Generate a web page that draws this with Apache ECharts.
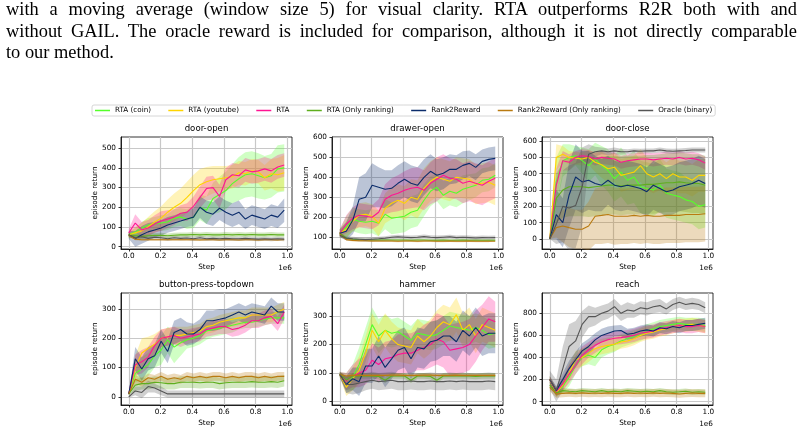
<!DOCTYPE html>
<html>
<head>
<meta charset="utf-8">
<script src="https://cdn.jsdelivr.net/npm/echarts@6/dist/echarts.min.js"></script>
<style>
html, body { margin: 0; padding: 0; background: #fff; }
#wrap { position: relative; width: 805px; height: 434px; overflow: hidden; }
#chart { position: absolute; left: 0; top: 0; width: 805px; height: 434px; }
#caption { position: absolute; left: 6px; top: -1px; width: 791px; font-family: "Liberation Serif", "Times New Roman", serif; font-size: 18.4px; line-height: 21.5px; color: #000; }
#caption div { white-space: nowrap; }
#caption .j { text-align: justify; text-align-last: justify; }
</style>
</head>
<body>
<div id="wrap">
  <div id="chart"></div>
  <div id="caption">
    <div class="j">with a moving average (window size 5) for visual clarity. RTA outperforms R2R both with and</div>
    <div class="j">without GAIL. The oracle reward is included for comparison, although it is not directly comparable</div>
    <div>to our method.</div>
  </div>
</div>
<script>
// training steps (x 1e6)
const steps = [0, 0.041, 0.082, 0.122, 0.163, 0.204, 0.245, 0.286, 0.327, 0.367, 0.408, 0.449, 0.49,
  0.531, 0.572, 0.612, 0.653, 0.694, 0.735, 0.776, 0.817, 0.857, 0.898, 0.939, 0.98]
const xTicks = [0, 0.2, 0.4, 0.6, 0.8, 1.0]

const seriesNames = ['RTA (coin)', 'RTA (youtube)', 'RTA', 'RTA (Only ranking)', 'Rank2Reward', 'Rank2Reward (Only ranking)', 'Oracle (binary)']

// door-open
const doorOpenTicks = [0, 100, 200, 300, 400, 500]
const doorOpenCoin = [60, 75, 95, 110, 115, 120, 125, 145, 150, 140, 150, 200, 185, 245, 265, 285, 320, 345, 365, 370, 360, 350, 360, 395, 400]
const doorOpenCoinBand = [15, 20, 30, 35, 35, 40, 40, 45, 45, 50, 55, 65, 70, 80, 90, 95, 100, 110, 115, 115, 115, 110, 110, 120, 120]
const doorOpenYoutube = [60, 70, 80, 100, 125, 145, 175, 200, 220, 250, 285, 315, 330, 340, 345, 350, 355, 375, 370, 385, 380, 350, 370, 365, 375]
const doorOpenYoutubeBand = [15, 30, 40, 50, 55, 60, 65, 70, 75, 80, 80, 80, 75, 70, 65, 60, 60, 60, 60, 60, 60, 65, 75, 85, 90]
const doorOpenRta = [70, 120, 85, 95, 115, 130, 140, 150, 170, 175, 205, 250, 295, 300, 255, 340, 365, 360, 390, 380, 385, 395, 385, 405, 415]
const doorOpenRtaBand = [20, 45, 40, 40, 45, 50, 45, 40, 40, 45, 50, 55, 60, 60, 60, 60, 60, 60, 60, 60, 60, 60, 60, 60, 60]
const doorOpenRtaRank = [58, 55, 52, 55, 57, 58, 55, 58, 60, 60, 62, 60, 62, 60, 60, 62, 60, 62, 60, 62, 60, 60, 62, 60, 60]
const doorOpenRtaRankBand = [12, 12, 12, 12, 12, 12, 12, 12, 12, 12, 12, 12, 12, 12, 12, 12, 12, 12, 12, 12, 12, 12, 12, 12, 12]
const doorOpenR2r = [60, 40, 60, 75, 85, 95, 110, 120, 130, 140, 150, 200, 175, 165, 195, 175, 160, 175, 140, 160, 150, 140, 160, 150, 185]
const doorOpenR2rBand = [20, 40, 45, 45, 40, 40, 40, 40, 40, 40, 45, 55, 60, 60, 60, 60, 60, 60, 50, 50, 50, 50, 55, 55, 60]
const doorOpenR2rRank = [58, 38, 35, 35, 35, 35, 35, 35, 35, 35, 35, 34, 35, 35, 34, 35, 35, 34, 35, 35, 34, 35, 35, 34, 35]
const doorOpenR2rRankBand = [5, 5, 5, 5, 5, 5, 5, 5, 5, 5, 5, 5, 5, 5, 5, 5, 5, 5, 5, 5, 5, 5, 5, 5, 5]
const doorOpenOracle = [60, 45, 50, 42, 48, 45, 40, 45, 42, 44, 40, 45, 40, 42, 40, 42, 40, 40, 42, 40, 38, 40, 38, 40, 38]
const doorOpenOracleBand = [10, 10, 10, 10, 10, 10, 10, 10, 10, 10, 10, 10, 10, 10, 10, 10, 10, 10, 10, 10, 10, 10, 10, 10, 10]

// drawer-open
const drawerOpenTicks = [100, 200, 300, 400, 500, 600]
const drawerOpenCoin = [120, 150, 190, 180, 175, 180, 170, 215, 195, 200, 205, 225, 235, 285, 330, 350, 310, 330, 320, 340, 350, 360, 385, 390, 410]
const drawerOpenCoinBand = [20, 55, 60, 60, 60, 60, 65, 75, 80, 80, 80, 80, 80, 80, 75, 70, 70, 70, 70, 70, 65, 60, 60, 60, 60]
const drawerOpenYoutube = [120, 140, 180, 210, 215, 205, 170, 245, 270, 285, 270, 300, 290, 345, 380, 400, 390, 380, 400, 395, 390, 365, 370, 375, 360]
const drawerOpenYoutubeBand = [20, 40, 50, 60, 60, 60, 65, 75, 80, 80, 85, 90, 95, 100, 100, 100, 100, 100, 100, 100, 100, 100, 100, 100, 100]
const drawerOpenRta = [120, 165, 195, 210, 205, 200, 225, 290, 310, 320, 335, 345, 350, 335, 370, 390, 410, 395, 390, 370, 380, 370, 360, 380, 395]
const drawerOpenRtaBand = [20, 45, 55, 60, 60, 60, 65, 75, 85, 90, 95, 100, 100, 100, 105, 110, 105, 100, 100, 100, 100, 100, 100, 100, 100]
const drawerOpenRtaRank = [120, 95, 90, 88, 87, 86, 86, 86, 86, 86, 86, 85, 86, 86, 85, 85, 86, 85, 85, 86, 85, 85, 85, 85, 85]
const drawerOpenRtaRankBand = [6, 6, 6, 6, 6, 6, 6, 6, 6, 6, 6, 6, 6, 6, 6, 6, 6, 6, 6, 6, 6, 6, 6, 6, 6]
const drawerOpenR2r = [120, 130, 185, 290, 300, 360, 350, 340, 345, 370, 390, 370, 360, 400, 430, 410, 420, 440, 440, 460, 470, 450, 480, 490, 495]
const drawerOpenR2rBand = [20, 45, 70, 110, 120, 110, 100, 95, 90, 90, 90, 90, 90, 90, 85, 80, 80, 75, 70, 70, 65, 65, 60, 60, 60]
const drawerOpenR2rRank = [115, 88, 84, 82, 82, 81, 81, 81, 81, 80, 81, 81, 80, 81, 81, 80, 80, 81, 80, 80, 81, 80, 80, 80, 80]
const drawerOpenR2rRankBand = [5, 5, 5, 5, 5, 5, 5, 5, 5, 5, 5, 5, 5, 5, 5, 5, 5, 5, 5, 5, 5, 5, 5, 5, 5]
const drawerOpenOracle = [110, 95, 92, 90, 88, 90, 92, 95, 100, 102, 100, 98, 100, 104, 100, 98, 100, 102, 98, 100, 98, 96, 98, 97, 98]
const drawerOpenOracleBand = [10, 10, 10, 10, 10, 10, 10, 10, 10, 10, 10, 10, 10, 10, 10, 10, 10, 10, 10, 10, 10, 10, 10, 10, 10]

// door-close
const doorCloseTicks = [0, 100, 200, 300, 400, 500, 600]
const doorCloseCoin = [0, 350, 480, 500, 510, 480, 450, 490, 450, 420, 370, 410, 360, 380, 320, 310, 300, 330, 280, 270, 260, 240, 230, 200, 210]
const doorCloseCoinBand = [0, 150, 100, 80, 60, 80, 100, 100, 120, 130, 140, 150, 150, 160, 160, 160, 160, 160, 150, 150, 150, 140, 140, 140, 140]
const doorCloseYoutube = [0, 500, 520, 500, 495, 490, 500, 470, 455, 430, 440, 390, 400, 410, 450, 400, 380, 400, 370, 400, 380, 380, 360, 390, 390]
const doorCloseYoutubeBand = [0, 80, 50, 40, 40, 40, 45, 60, 80, 85, 90, 100, 100, 100, 100, 100, 100, 100, 100, 100, 100, 100, 100, 100, 100]
const doorCloseRta = [0, 330, 480, 470, 500, 510, 505, 490, 500, 495, 490, 470, 480, 485, 490, 490, 485, 490, 495, 490, 500, 490, 495, 485, 465]
const doorCloseRtaBand = [0, 100, 60, 50, 40, 40, 40, 40, 40, 40, 40, 40, 40, 40, 40, 40, 40, 40, 40, 40, 40, 40, 40, 40, 40]
const doorCloseRtaRank = [0, 250, 300, 320, 320, 320, 315, 320, 325, 330, 330, 325, 330, 330, 330, 335, 335, 340, 345, 345, 350, 345, 340, 340, 330]
const doorCloseRtaRankBand = [0, 150, 170, 180, 180, 180, 180, 180, 180, 180, 180, 180, 180, 180, 180, 180, 180, 180, 180, 180, 180, 180, 180, 180, 180]
const doorCloseR2r = [0, 150, 100, 270, 380, 350, 360, 340, 330, 360, 330, 320, 330, 320, 310, 290, 330, 310, 290, 300, 320, 330, 340, 360, 340]
const doorCloseR2rBand = [0, 150, 150, 200, 200, 190, 180, 170, 160, 150, 150, 150, 150, 150, 150, 150, 150, 150, 150, 150, 150, 150, 150, 150, 150]
const doorCloseR2rRank = [0, 70, 80, 70, 60, 60, 80, 140, 145, 150, 140, 140, 140, 145, 140, 145, 140, 140, 145, 145, 145, 150, 150, 150, 155]
const doorCloseR2rRankBand = [0, 60, 100, 120, 120, 120, 150, 170, 175, 175, 175, 170, 170, 170, 170, 170, 170, 170, 170, 170, 170, 170, 170, 170, 170]
const doorCloseOracle = [0, 90, 200, 190, 205, 320, 520, 535, 540, 535, 540, 535, 535, 540, 538, 540, 540, 545, 540, 538, 540, 542, 545, 545, 545]
const doorCloseOracleBand = [0, 120, 220, 260, 260, 240, 60, 30, 20, 20, 20, 18, 15, 15, 15, 15, 15, 15, 15, 15, 15, 15, 15, 15, 15]

// button-press-topdown
const buttonTicks = [0, 100, 200, 300]
const buttonCoin = [10, 80, 95, 110, 140, 160, 195, 170, 185, 195, 200, 210, 225, 230, 235, 240, 245, 250, 255, 255, 260, 265, 270, 270, 270]
const buttonCoinBand = [5, 30, 40, 40, 40, 50, 45, 55, 45, 30, 30, 30, 30, 25, 25, 25, 25, 20, 20, 20, 20, 20, 20, 20, 20]
const buttonYoutube = [10, 100, 150, 165, 180, 200, 205, 210, 210, 215, 220, 225, 240, 245, 255, 260, 265, 270, 270, 280, 280, 280, 280, 290, 300]
const buttonYoutubeBand = [5, 40, 50, 40, 35, 30, 30, 30, 30, 25, 25, 25, 25, 25, 25, 25, 25, 25, 25, 25, 25, 25, 25, 25, 25]
const buttonRta = [10, 110, 120, 135, 175, 200, 205, 210, 200, 205, 210, 215, 230, 235, 240, 240, 230, 235, 245, 260, 260, 270, 275, 250, 290]
const buttonRtaBand = [5, 35, 40, 35, 30, 30, 30, 30, 30, 25, 25, 25, 25, 25, 25, 25, 25, 25, 25, 25, 25, 25, 25, 25, 25]
const buttonRtaRank = [10, 40, 45, 45, 50, 48, 45, 45, 50, 50, 50, 48, 50, 50, 45, 48, 50, 50, 50, 52, 50, 50, 52, 50, 55]
const buttonRtaRankBand = [5, 20, 20, 20, 20, 20, 20, 20, 20, 20, 20, 20, 20, 20, 20, 20, 20, 20, 20, 20, 20, 20, 20, 20, 20]
const buttonR2r = [10, 130, 95, 130, 140, 190, 155, 220, 230, 215, 215, 230, 260, 260, 265, 270, 280, 290, 280, 290, 285, 280, 310, 290, 290]
const buttonR2rBand = [5, 40, 40, 40, 40, 40, 40, 40, 40, 40, 35, 35, 35, 35, 35, 30, 30, 30, 30, 30, 30, 30, 30, 30, 30]
const buttonR2rRank = [10, 60, 50, 65, 60, 70, 60, 65, 60, 70, 65, 70, 65, 70, 70, 65, 70, 65, 70, 70, 65, 70, 65, 70, 70]
const buttonR2rRankBand = [5, 15, 15, 15, 15, 15, 15, 15, 15, 15, 15, 15, 15, 15, 15, 15, 15, 15, 15, 15, 15, 15, 15, 15, 15]
const buttonOracle = [0, 20, 15, 35, 30, 20, 10, 10, 10, 10, 10, 10, 10, 10, 10, 10, 10, 10, 10, 10, 10, 10, 10, 10, 10]
const buttonOracleBand = [3, 15, 20, 20, 15, 15, 12, 12, 12, 12, 12, 12, 12, 12, 12, 12, 12, 12, 12, 12, 12, 12, 12, 12, 12]

// hammer
const hammerTicks = [0, 100, 200, 300]
const hammerCoin = [95, 70, 85, 130, 200, 270, 230, 250, 240, 245, 230, 215, 240, 235, 230, 235, 250, 265, 260, 255, 250, 260, 250, 235, 240]
const hammerCoinBand = [10, 30, 45, 60, 60, 60, 60, 55, 50, 50, 50, 50, 50, 50, 50, 50, 50, 50, 50, 50, 50, 50, 50, 50, 50]
const hammerYoutube = [95, 50, 80, 110, 170, 250, 210, 250, 220, 200, 195, 190, 230, 210, 230, 260, 280, 270, 305, 250, 270, 230, 270, 260, 250]
const hammerYoutubeBand = [10, 30, 40, 50, 60, 60, 60, 60, 60, 60, 60, 60, 60, 60, 60, 60, 60, 60, 60, 60, 60, 60, 60, 60, 60]
const hammerRta = [95, 70, 90, 100, 110, 145, 130, 150, 155, 165, 170, 170, 180, 190, 200, 220, 210, 180, 185, 190, 200, 230, 260, 290, 280]
const hammerRtaBand = [10, 30, 40, 50, 50, 60, 60, 60, 60, 70, 70, 70, 70, 80, 80, 90, 90, 90, 90, 90, 90, 90, 80, 80, 70]
const hammerRtaRank = [95, 75, 90, 90, 90, 90, 88, 75, 90, 90, 90, 75, 90, 90, 88, 75, 90, 90, 90, 90, 90, 88, 90, 90, 90]
const hammerRtaRankBand = [10, 10, 10, 10, 10, 10, 10, 10, 10, 10, 10, 10, 10, 10, 10, 10, 10, 10, 10, 10, 10, 10, 10, 10, 10]
const hammerR2r = [95, 60, 80, 70, 125, 125, 160, 120, 150, 180, 190, 150, 190, 185, 210, 215, 230, 230, 210, 250, 230, 260, 230, 240, 240]
const hammerR2rBand = [10, 30, 40, 50, 60, 60, 70, 70, 70, 70, 70, 70, 70, 70, 70, 70, 70, 70, 70, 70, 70, 70, 70, 70, 70]
const hammerR2rRank = [95, 90, 92, 92, 92, 92, 92, 92, 93, 93, 92, 92, 92, 93, 93, 92, 92, 92, 93, 92, 92, 92, 92, 92, 92]
const hammerR2rRankBand = [6, 6, 6, 6, 6, 6, 6, 6, 6, 6, 6, 6, 6, 6, 6, 6, 6, 6, 6, 6, 6, 6, 6, 6, 6]
const hammerOracle = [95, 60, 60, 65, 70, 75, 70, 72, 75, 70, 70, 72, 70, 70, 72, 70, 70, 72, 70, 72, 70, 70, 70, 72, 70]
const hammerOracleBand = [5, 30, 35, 35, 30, 30, 30, 30, 30, 30, 30, 30, 30, 30, 30, 30, 30, 30, 30, 30, 30, 30, 30, 30, 30]

// reach
const reachTicks = [0, 200, 400, 600, 800]
const reachCoin = [200, 90, 140, 220, 330, 400, 420, 400, 470, 500, 520, 550, 570, 590, 610, 640, 660, 680, 690, 700, 710, 700, 700, 700, 690]
const reachCoinBand = [30, 40, 60, 80, 80, 80, 80, 80, 70, 70, 70, 60, 60, 60, 60, 60, 60, 60, 60, 60, 60, 60, 60, 60, 60]
const reachYoutube = [200, 80, 150, 260, 380, 400, 440, 480, 500, 510, 520, 540, 550, 570, 600, 620, 630, 650, 660, 680, 690, 690, 700, 690, 680]
const reachYoutubeBand = [30, 40, 60, 80, 80, 80, 80, 70, 70, 70, 60, 60, 60, 60, 60, 60, 60, 60, 60, 60, 60, 60, 60, 60, 60]
const reachRta = [200, 90, 160, 250, 330, 420, 470, 510, 540, 560, 575, 580, 590, 600, 620, 630, 640, 660, 670, 680, 690, 680, 680, 690, 680]
const reachRtaBand = [30, 40, 60, 80, 80, 80, 70, 70, 60, 60, 60, 60, 60, 60, 60, 60, 60, 60, 60, 60, 60, 60, 60, 60, 60]
const reachRtaRank = [150, 80, 100, 95, 90, 100, 95, 90, 100, 90, 95, 90, 100, 95, 90, 95, 90, 100, 90, 85, 90, 95, 85, 90, 85]
const reachRtaRankBand = [25, 25, 25, 25, 25, 25, 25, 25, 25, 25, 25, 25, 25, 25, 25, 25, 25, 25, 25, 25, 25, 25, 25, 25, 25]
const reachR2r = [200, 100, 200, 300, 380, 460, 500, 560, 600, 620, 640, 645, 610, 620, 640, 650, 640, 670, 660, 680, 670, 690, 690, 700, 710]
const reachR2rBand = [30, 40, 60, 70, 70, 70, 70, 60, 60, 60, 50, 50, 50, 50, 50, 50, 50, 50, 50, 50, 50, 50, 50, 50, 50]
const reachR2rRank = [130, 70, 75, 80, 75, 80, 75, 78, 75, 80, 75, 75, 80, 75, 78, 75, 80, 75, 78, 75, 70, 75, 78, 75, 75]
const reachR2rRankBand = [35, 35, 35, 35, 35, 35, 35, 35, 35, 35, 35, 35, 35, 35, 35, 35, 35, 35, 35, 35, 35, 35, 35, 35, 35]
const reachOracle = [200, 100, 300, 500, 550, 700, 770, 770, 800, 820, 860, 800, 830, 820, 850, 840, 860, 870, 840, 880, 900, 880, 890, 880, 850]
const reachOracleBand = [80, 100, 200, 200, 180, 120, 100, 80, 70, 70, 70, 70, 70, 60, 60, 60, 60, 60, 50, 50, 50, 50, 50, 50, 50]

const colors = ['#55ff2a', '#ffd400', '#ff1493', '#5fae1e', '#0b2c6b', '#b97a10', '#555555']

const panels = [
  { title: 'door-open', ticks: doorOpenTicks, min: -12, max: 557,
    mean: [doorOpenCoin, doorOpenYoutube, doorOpenRta, doorOpenRtaRank, doorOpenR2r, doorOpenR2rRank, doorOpenOracle],
    band: [doorOpenCoinBand, doorOpenYoutubeBand, doorOpenRtaBand, doorOpenRtaRankBand, doorOpenR2rBand, doorOpenR2rRankBand, doorOpenOracleBand] },
  { title: 'drawer-open', ticks: drawerOpenTicks, min: 41, max: 602,
    mean: [drawerOpenCoin, drawerOpenYoutube, drawerOpenRta, drawerOpenRtaRank, drawerOpenR2r, drawerOpenR2rRank, drawerOpenOracle],
    band: [drawerOpenCoinBand, drawerOpenYoutubeBand, drawerOpenRtaBand, drawerOpenRtaRankBand, drawerOpenR2rBand, drawerOpenR2rRankBand, drawerOpenOracleBand] },
  { title: 'door-close', ticks: doorCloseTicks, min: -61, max: 625,
    mean: [doorCloseCoin, doorCloseYoutube, doorCloseRta, doorCloseRtaRank, doorCloseR2r, doorCloseR2rRank, doorCloseOracle],
    band: [doorCloseCoinBand, doorCloseYoutubeBand, doorCloseRtaBand, doorCloseRtaRankBand, doorCloseR2rBand, doorCloseR2rRankBand, doorCloseOracleBand] },
  { title: 'button-press-topdown', ticks: buttonTicks, min: -28, max: 355,
    mean: [buttonCoin, buttonYoutube, buttonRta, buttonRtaRank, buttonR2r, buttonR2rRank, buttonOracle],
    band: [buttonCoinBand, buttonYoutubeBand, buttonRtaBand, buttonRtaRankBand, buttonR2rBand, buttonR2rRankBand, buttonOracleBand] },
  { title: 'hammer', ticks: hammerTicks, min: -12, max: 381,
    mean: [hammerCoin, hammerYoutube, hammerRta, hammerRtaRank, hammerR2r, hammerR2rRank, hammerOracle],
    band: [hammerCoinBand, hammerYoutubeBand, hammerRtaBand, hammerRtaRankBand, hammerR2rBand, hammerR2rRankBand, hammerOracleBand] },
  { title: 'reach', ticks: reachTicks, min: -30, max: 984,
    mean: [reachCoin, reachYoutube, reachRta, reachRtaRank, reachR2r, reachR2rRank, reachOracle],
    band: [reachCoinBand, reachYoutubeBand, reachRtaBand, reachRtaRankBand, reachR2rBand, reachR2rRankBand, reachOracleBand] }
]

const FONT = 'DejaVu Sans'
const gridLeft = [121, 332, 542]
const gridTop = [137, 293]
const GW = 171
const GH = 112

const grids = []
const xAxes = []
const yAxes = []
const series = []
const graphics = []

panels.forEach((p, k) => {
  const row = Math.floor(k / 3)
  const col = k % 3
  const left = gridLeft[col]
  const top = gridTop[row]
  grids.push({ left: left, top: top, width: GW, height: GH, show: true, borderColor: '#000', borderWidth: 0.8 })
  xAxes.push({
    type: 'value', gridIndex: k, min: -0.049, max: 1.029,
    axisLine: { show: true, onZero: false, lineStyle: { color: '#000', width: 0.8 } },
    axisTick: { show: true, length: 2.5, customValues: xTicks, lineStyle: { color: '#000', width: 0.8 } },
    axisLabel: { customValues: xTicks, formatter: (v) => v.toFixed(1), fontSize: 7.3, fontFamily: FONT, color: '#000', margin: 4 },
    splitLine: { show: true, lineStyle: { color: '#c8c8c8', width: 1.2 } },
    name: 'Step', nameLocation: 'middle', nameGap: 15,
    nameTextStyle: { fontSize: 7.3, fontFamily: FONT, color: '#000' }
  })
  yAxes.push({
    type: 'value', gridIndex: k, min: p.min, max: p.max,
    axisLine: { show: true, onZero: false, lineStyle: { color: '#000', width: 0.8 } },
    axisTick: { show: true, length: 2.5, customValues: p.ticks, lineStyle: { color: '#000', width: 0.8 } },
    axisLabel: { customValues: p.ticks, fontSize: 7.3, fontFamily: FONT, color: '#000', margin: 5 },
    splitLine: { show: true, lineStyle: { color: '#c8c8c8', width: 1.2 } },
    name: 'episode return', nameLocation: 'middle', nameGap: 20,
    nameTextStyle: { fontSize: 7.3, fontFamily: FONT, color: '#000' }
  })
  graphics.push({ type: 'text', x: left + GW / 2, y: top - 8, style: { text: p.title, fontSize: 8.6, fontFamily: FONT, fill: '#000', textAlign: 'center', textVerticalAlign: 'middle' } })
  graphics.push({ type: 'text', x: left + GW, y: top + GH + 19, style: { text: '1e6', fontSize: 7.3, fontFamily: FONT, fill: '#000', textAlign: 'right', textVerticalAlign: 'middle' } })

  // shaded bands: [value, step] rows so the value dimension is the one stacked
  p.mean.forEach((m, s) => {
    const b = p.band[s]
    const stackKey = 'p' + k + 's' + s
    const common = {
      type: 'line', xAxisIndex: k, yAxisIndex: k, stack: stackKey, stackStrategy: 'all',
      dimensions: ['v', 'step'], encode: { x: 'step', y: 'v' },
      symbol: 'none', lineStyle: { opacity: 0 }, silent: true, z: 1
    }
    series.push(Object.assign({}, common, {
      data: steps.map((x, i) => [m[i] - b[i], x])
    }))
    series.push(Object.assign({}, common, {
      data: steps.map((x, i) => [2 * b[i], x]),
      areaStyle: { color: colors[s], opacity: 0.28 }
    }))
  })
  // mean lines
  p.mean.forEach((m, s) => {
    series.push({
      name: seriesNames[s], type: 'line', xAxisIndex: k, yAxisIndex: k,
      data: steps.map((x, i) => [x, m[i]]),
      symbol: 'none', z: 3,
      lineStyle: { color: colors[s], width: 1.1 },
      itemStyle: { color: colors[s] }
    })
  })
})

const chart = echarts.init(document.getElementById('chart'), null, { renderer: 'canvas' })
chart.setOption({
  animation: false,
  backgroundColor: '#fff',
  color: colors,
  legend: {
    data: seriesNames, left: 92, top: 105, orient: 'horizontal',
    icon: 'rect', itemWidth: 15, itemHeight: 1.5, itemGap: 17.3,
    padding: [2, 3, 2, 3], borderColor: '#cccccc', borderWidth: 0.8, borderRadius: 2,
    selectedMode: false,
    textStyle: { fontSize: 7.2, fontFamily: FONT, color: '#000' }
  },
  grid: grids,
  xAxis: xAxes,
  yAxis: yAxes,
  graphic: graphics,
  series: series
})
</script>
</body>
</html>
